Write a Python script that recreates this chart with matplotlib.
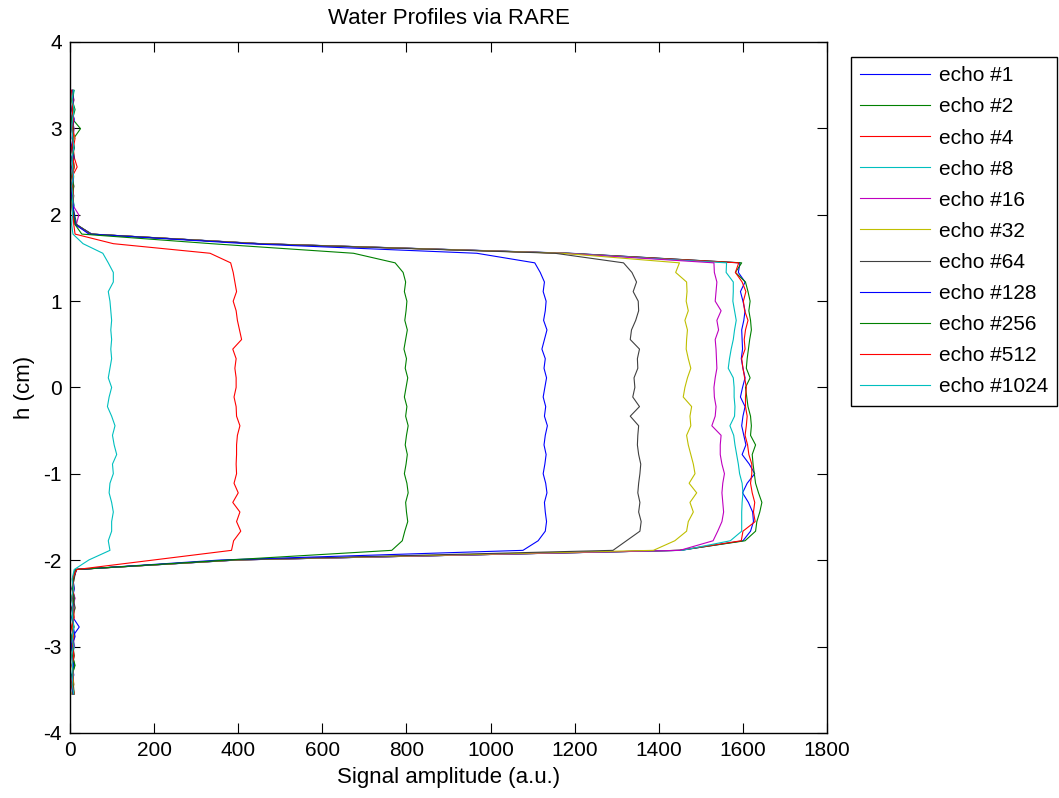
import numpy as np
import matplotlib as mpl
from matplotlib import pyplot as plt

mpl.use("agg")
mpl.rcParams["font.family"] = ["Liberation Sans", "DejaVu Sans"]
mpl.rcParams["font.size"] = 15
mpl.rcParams["axes.unicode_minus"] = False

# depth grid of the profiles (cm), top to bottom
h = np.linspace(3.44, -3.55, 64)

echo_labels = ["echo #1", "echo #2", "echo #4", "echo #8", "echo #16", "echo #32",
               "echo #64", "echo #128", "echo #256", "echo #512", "echo #1024"]

echo1 = [6, 4, 9, 3, 7, 5, 10, 4, 6, 8, 3, 7, 5, 9, 14,
         52, 455, 1190,
         1593, 1589, 1605, 1594, 1600, 1605, 1602, 1597, 1598, 1599, 1596, 1600, 1605, 1599, 1594, 1605,
         1600, 1597, 1602, 1607, 1598, 1615, 1628, 1610, 1599, 1613, 1623, 1625, 1618, 1600, 1452,
         400,
         15, 8, 5, 10, 4, 7, 22, 6, 3, 8, 5, 9, 4, 6]
echo2 = [8, 5, 12, 6, 25, 9, 4, 7, 10, 5, 8, 3, 6, 11, 16,
         50, 450, 1185,
         1597, 1582, 1606, 1612, 1617, 1614, 1618, 1620, 1616, 1613, 1610, 1608, 1617, 1606, 1609, 1612,
         1618, 1620, 1618, 1630, 1622, 1624, 1627, 1630, 1637, 1645, 1640, 1633, 1630, 1605, 1450,
         395,
         12, 6, 9, 4, 8, 5, 7, 10, 4, 6, 12, 5, 8, 10]
echo4 = [4, 7, 5, 9, 6, 12, 8, 10, 17, 5, 6, 4, 9, 7, 12,
         48, 448, 1180,
         1590, 1582, 1598, 1607, 1601, 1604, 1612, 1606, 1603, 1605, 1597, 1600, 1604, 1608, 1606, 1606,
         1610, 1608, 1605, 1611, 1614, 1621, 1621, 1618, 1622, 1628, 1625, 1629, 1600, 1596, 1448,
         398,
         14, 9, 6, 11, 5, 8, 4, 10, 7, 5, 9, 6, 3, 8]
echo8 = [10, 6, 4, 8, 5, 9, 3, 7, 6, 4, 8, 5, 10, 6, 13,
         50, 452, 1178,
         1561, 1560, 1577, 1577, 1576, 1580, 1584, 1580, 1577, 1572, 1568, 1565, 1577, 1579, 1579, 1581,
         1580, 1569, 1578, 1581, 1585, 1589, 1592, 1598, 1600, 1598, 1597, 1597, 1597, 1570, 1455,
         402,
         16, 7, 10, 5, 8, 4, 9, 6, 11, 5, 7, 4, 8, 5]
echo16 = [5, 9, 6, 4, 10, 7, 5, 8, 4, 6, 9, 5, 7, 21, 15,
          49, 450, 1175,
          1531, 1532, 1538, 1536, 1534, 1548, 1538, 1542, 1534, 1536, 1537, 1538, 1534, 1531, 1532, 1536,
          1534, 1526, 1548, 1546, 1546, 1550, 1556, 1552, 1550, 1552, 1554, 1550, 1540, 1529, 1450,
          400,
          13, 8, 5, 12, 6, 9, 5, 7, 10, 4, 8, 6, 9, 5]
echo32 = [7, 4, 8, 5, 6, 10, 4, 7, 5, 9, 6, 8, 4, 7, 14,
          50, 448, 1170,
          1449, 1440, 1466, 1467, 1465, 1470, 1462, 1468, 1466, 1465, 1470, 1476, 1468, 1462, 1458, 1478,
          1474, 1476, 1466, 1470, 1476, 1482, 1486, 1472, 1490, 1474, 1482, 1470, 1466, 1438, 1387,
          395,
          15, 6, 9, 4, 12, 7, 5, 8, 6, 10, 5, 7, 9, 4]
echo64 = [6, 9, 5, 7, 4, 8, 6, 10, 5, 7, 4, 9, 6, 8, 15,
          51, 445, 1153,
          1316, 1336, 1347, 1339, 1351, 1352, 1345, 1335, 1332, 1354, 1349, 1350, 1341, 1343, 1338, 1354,
          1332, 1352, 1350, 1349, 1352, 1357, 1355, 1352, 1350, 1355, 1352, 1358, 1355, 1323, 1291,
          390,
          14, 10, 5, 8, 12, 6, 9, 4, 7, 10, 6, 8, 5, 7]
echo128 = [5, 8, 4, 10, 6, 7, 3, 9, 5, 8, 6, 4, 7, 10, 13,
           45, 420, 967,
           1105, 1118, 1128, 1125, 1132, 1130, 1126, 1134, 1128, 1122, 1130, 1127, 1133, 1129, 1125, 1131,
           1128, 1135, 1130, 1127, 1132, 1129, 1125, 1131, 1134, 1128, 1130, 1133, 1130, 1113, 1077,
           360,
           16, 7, 10, 6, 9, 5, 8, 12, 4, 7, 9, 5, 6, 8]
echo256 = [9, 5, 7, 4, 8, 6, 10, 5, 7, 4, 9, 6, 5, 8, 12,
           28, 336, 674,
           773, 792, 798, 795, 801, 799, 796, 802, 798, 794, 800, 797, 803, 799, 795, 801,
           798, 804, 800, 797, 802, 799, 795, 801, 804, 798, 800, 803, 796, 790, 765,
           380,
           14, 8, 6, 10, 5, 7, 9, 4, 8, 6, 11, 5, 7, 9]
echo512 = [4, 7, 5, 8, 6, 9, 4, 7, 10, 5, 6, 8, 4, 7, 9,
           12, 103, 333,
           382, 388, 392, 396, 388, 395, 398, 403, 408, 387, 395, 392, 395, 395, 390, 395,
           396, 404, 398, 396, 396, 395, 396, 390, 400, 387, 404, 396, 406, 389, 384,
           200,
           16, 6, 9, 5, 8, 10, 4, 7, 6, 9, 5, 8, 6, 10]
echo1024 = [8, 5, 10, 6, 4, 7, 9, 5, 6, 8, 4, 7, 5, 6, 4,
            7, 31, 78,
            91, 103, 103, 91, 95, 97, 99, 97, 99, 97, 99, 95, 91, 99, 93, 89,
            99, 107, 101, 105, 111, 101, 103, 95, 93, 99, 103, 99, 99, 91, 95,
            45,
            10, 5, 8, 4, 7, 6, 9, 5, 8, 4, 6, 7, 5, 9]

profiles = [echo1, echo2, echo4, echo8, echo16, echo32, echo64,
            echo128, echo256, echo512, echo1024]

# old matlab colour order
matlab_colors = [(0, 0, 1), (0, 0.5, 0), (1, 0, 0), (0, 0.75, 0.75),
                 (0.75, 0, 0.75), (0.75, 0.75, 0), (0.25, 0.25, 0.25)]

fig = plt.figure(figsize=(10.59, 7.98), dpi=100)
ax = fig.add_axes([0.0661, 0.0815, 0.7149, 0.8659])

for i, (prof, lab) in enumerate(zip(profiles, echo_labels)):
    ax.plot(prof, h, color=matlab_colors[i % 7], lw=0.8, label=lab)

ax.set_xlim(0, 1800)
ax.set_ylim(-4, 4)
ax.set_xticks(np.arange(0, 1801, 200))
ax.set_yticks(np.arange(-4, 5, 1))
ax.tick_params(direction="in", length=7, width=0.8, top=True, right=True, pad=6)
for sp in ax.spines.values():
    sp.set_linewidth(1.0)

ax.set_title("Water Profiles via RARE", fontsize=16, pad=13)
ax.set_xlabel("Signal amplitude (a.u.)", fontsize=16, labelpad=5)
ax.set_ylabel("h (cm)", fontsize=16, labelpad=6)

leg = ax.legend(loc="upper left", bbox_to_anchor=(0.8036, 0.9286), bbox_transform=fig.transFigure,
                borderaxespad=0, fancybox=False, shadow=False, framealpha=1, edgecolor="black",
                handlelength=3.35, handletextpad=0.4, labelspacing=0.58, borderpad=0.45)
leg.get_frame().set_linewidth(1.0)

fig.savefig("out.png", dpi=100)
plt.close(fig)
